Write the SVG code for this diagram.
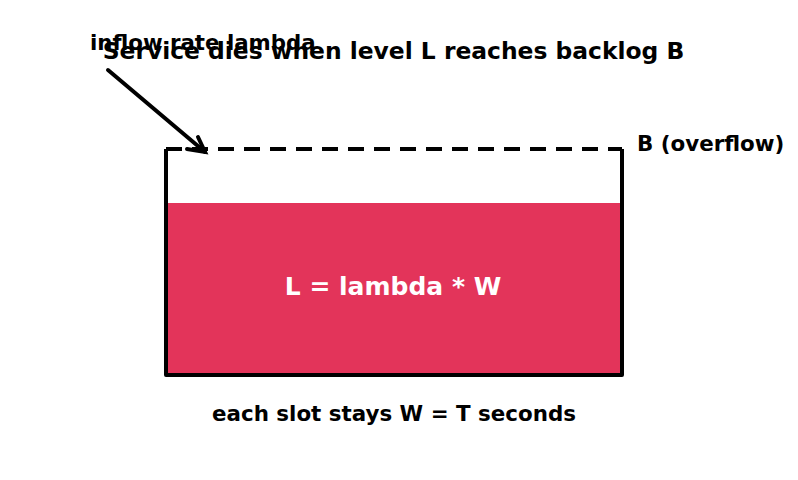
<svg xmlns="http://www.w3.org/2000/svg" width="798" height="480" viewBox="0 0 798 480">
<style>
text{font-family:"DejaVu Sans",sans-serif;font-weight:bold;fill:#000}
.edge{stroke:#000;stroke-width:4;fill:none;stroke-linecap:round}
</style>
<rect width="798" height="480" fill="#fff"/>
<g id="title"><text x="393.5" y="59" font-size="23.4" text-anchor="middle">Service dies when level L reaches backlog B</text></g>
<g id="tank">
<rect x="166" y="203" width="456" height="172" fill="#E3345A"/>
<path d="M166,149 V375 H622 V149" fill="none" stroke="#000" stroke-width="4" stroke-linejoin="round"/>
<line x1="166" y1="149" x2="622" y2="149" stroke="#000" stroke-width="4" stroke-dasharray="16,10"/>
<text x="393" y="295" font-size="25" text-anchor="middle" style="fill:#fff">L = lambda * W</text>
</g>
<g id="overflow"><text x="637" y="151" font-size="21.4">B (overflow)</text></g>
<g id="inflow"><text x="90" y="50" font-size="21.3">inflow rate lambda</text></g>
<g id="caption"><text x="394" y="421" font-size="21.4" text-anchor="middle">each slot stays W = T seconds</text></g>
<g id="connectors">
<path class="edge" d="M108,70 L205,152"/>
<path class="edge" d="M187,149 L205,152 L198,137"/>
</g>
</svg>
